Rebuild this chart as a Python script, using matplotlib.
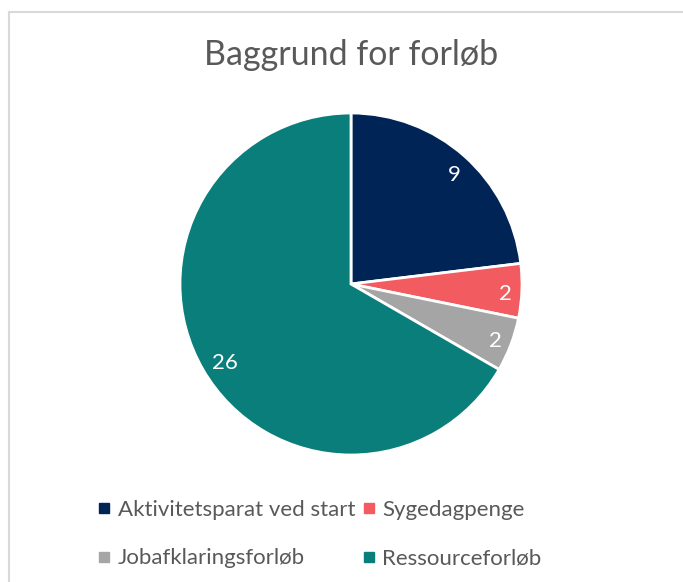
import matplotlib
matplotlib.use("Agg")
import matplotlib.pyplot as plt
import matplotlib.transforms as mtransforms
from matplotlib.lines import Line2D

categories = ["Aktivitetsparat ved start", "Sygedagpenge", "Jobafklaringsforløb", "Ressourceforløb"]
values = [9, 2, 2, 26]
colors = ["#002455", "#F25C60", "#A5A5A5", "#0A7E7A"]
title = "Baggrund for forløb"

plt.rcParams['font.family'] = ['Lato', 'DejaVu Sans']
W, H = 683, 582
fig = plt.figure(figsize=(W / 100, H / 100), dpi=100)

# frame lines (top and left)
fig.add_artist(Line2D([9 / W, 9 / W], [0, 1 - 12 / H], transform=fig.transFigure, color="#D9D9D9", lw=1.5))
fig.add_artist(Line2D([9 / W, 1], [1 - 12 / H, 1 - 12 / H], transform=fig.transFigure, color="#D9D9D9", lw=1.5))

cx, cy, r = 351, 284, 171
ax = fig.add_axes([(cx - r) / W, (H - cy - r) / H, 2 * r / W, 2 * r / H])
total = sum(values)
wedges, texts, autotexts = ax.pie(
    values, colors=colors, startangle=90, counterclock=False,
    autopct=lambda p: f"{round(p * total / 100)}", pctdistance=0.88,
    wedgeprops=dict(edgecolor="white", linewidth=2.0),
    textprops=dict(color="white", fontsize=16), radius=1.0)
shift = mtransforms.ScaledTranslation(4 / 100, -4 / 100, fig.dpi_scale_trans)
for t in autotexts:
    t.set_transform(t.get_transform() + shift)
ax.set_xlim(-1, 1)
ax.set_ylim(-1, 1)
ax.set_aspect("equal")

fig.text(cx / W, 1 - 55 / H, title, ha="center", va="center", fontsize=24.5, color="#595959")

# legend filled row-wise (matplotlib fills columns first)
order = [0, 2, 1, 3]
handles = [Line2D([], [], marker="s", linestyle="none", markersize=6.5, color=colors[i]) for i in order]
labels = [categories[i] for i in order]
fig.legend(handles, labels, loc="center", bbox_to_anchor=(320 / W, 1 - 534 / H), ncol=2,
           frameon=False, fontsize=16, labelcolor="#595959", handlelength=0.5, handletextpad=0.35,
           columnspacing=0.35, labelspacing=1.3)

fig.savefig("out.png", dpi=100)
